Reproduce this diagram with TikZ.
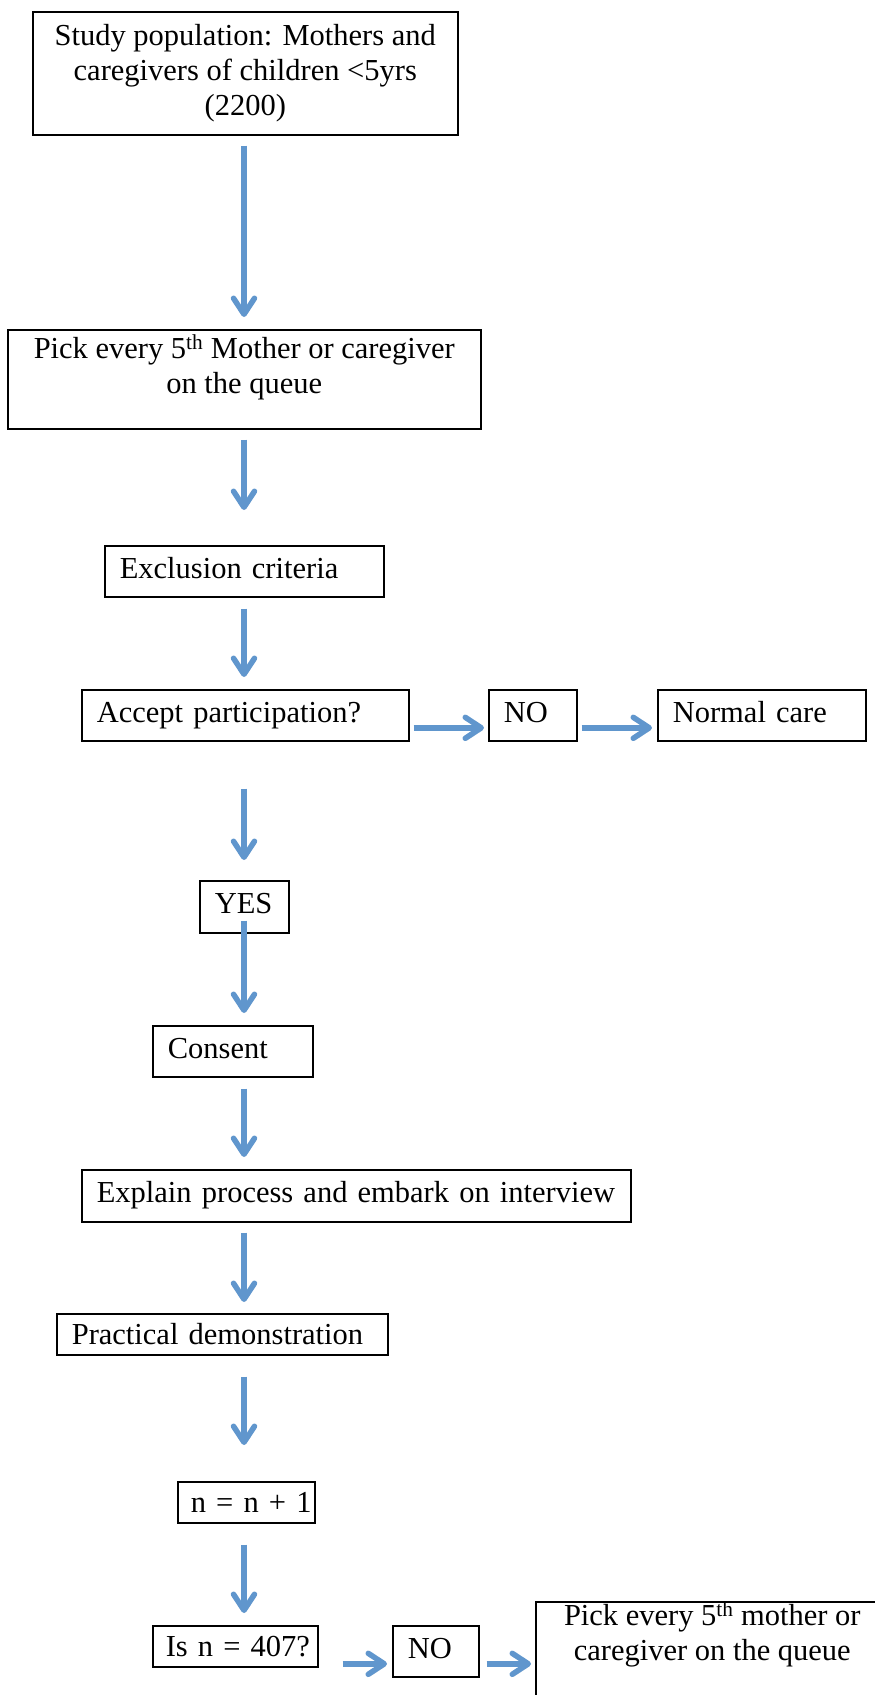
\documentclass[tikz,border=0pt]{standalone}
\usepackage{fontspec}
\setmainfont{Liberation Serif}
\usetikzlibrary{arrows.meta,calc}
\definecolor{bleuFleche}{RGB}{96,150,205}

\begin{document}
\begin{tikzpicture}[x=1pt,y=-1pt,font=\fontsize{30.5pt}{35pt}\selectfont]
    		\tikzstyle{cadre}=[draw, line width=1.6pt, inner xsep=15pt, inner ysep=0pt, align=left, anchor=north west, text height=21pt, text depth=7pt]
    		\tikzstyle{cadreCentre}=[draw, line width=1.6pt, inner sep=0pt, align=center, anchor=north west]
    		\tikzstyle{fleche}=[line width=5.5pt, draw=bleuFleche, -{Straight Barb[length=16pt,width=21pt,round]},
    		  preaction={draw=black!10, transform canvas={shift={(1pt,-2.5pt)}}}]
    	
    		\useasboundingbox (0,0) rectangle (875,1695);
    		\clip (0,0) rectangle (875,1695);
    		% main column
    		\node [cadreCentre, minimum width=425pt, minimum height=123pt] (population) at (32,11) {Study population: Mothers and\\ caregivers of children <5yrs\\ (2200)};
    		\node [cadreCentre, minimum width=473pt, minimum height=99pt] (tirage) at (7,329) {Pick every 5\textsuperscript{th} Mother or caregiver\\ on the queue\rule[-30pt]{0pt}{30pt}};
    		\node [cadre, minimum width=279pt, minimum height=51pt, text width=249pt] (exclusion) at (104,545) {Exclusion criteria};
    		\node [cadre, minimum width=327pt, minimum height=51pt, text width=297pt] (accord) at (81,689) {Accept participation?};
    		\node [cadre, minimum width=88pt, minimum height=51pt, text width=58pt] (non) at (488,689) {NO};
    		\node [cadre, minimum width=208pt, minimum height=51pt, text width=178pt] (soinsNormaux) at (657,689) {Normal care};
    		\node [cadre, minimum width=89pt, minimum height=52pt, text width=59pt] (oui) at (199,880) {YES};
    		\node [cadre, minimum width=160pt, minimum height=51pt, text width=130pt] (consentement) at (152,1025) {Consent};
    		\node [cadre, minimum width=549pt, minimum height=52pt, text width=519pt] (explication) at (81,1169) {Explain process and embark on interview};
    		\node [cadre, minimum width=331pt, minimum height=41pt, text width=301pt, text depth=0pt] (demonstration) at (56,1313) {Practical demonstration};
    		\node [cadre, minimum width=137pt, minimum height=41pt, inner xsep=13pt, text width=111pt, text depth=0pt] (increment) at (177,1481) {n~=~n~+~1};
    		\node [cadre, minimum width=165pt, minimum height=41pt, inner xsep=13pt, text width=139pt, text depth=0pt] (test) at (152,1625) {Is~n~=~407?};
    		\node [cadre, minimum width=86pt, minimum height=51pt, text width=56pt] (nonFin) at (392,1625) {NO};
    		\node [cadreCentre, minimum width=353pt, minimum height=99pt] (tirageSuivant) at (535,1601) {Pick every 5\textsuperscript{th} mother or\\ caregiver on the queue\rule[-53pt]{0pt}{53pt}};
    		
    		% arrows down the column
    		\coordinate (axe) at (244,0);
    		\draw [fleche] ($(axe |- population.south)+(0,10)$) -- ($(axe |- tirage.north)+(0,-12)$);
    		\draw [fleche] ($(axe |- tirage.south)+(0,10)$) -- ($(axe |- exclusion.north)+(0,-35)$);
    		\draw [fleche] ($(axe |- exclusion.south)+(0,11)$) -- ($(axe |- accord.north)+(0,-12)$);
    		\draw [fleche] ($(axe |- accord.south)+(0,47)$) -- ($(axe |- oui.north)+(0,-20)$);
    		\draw [fleche] ($(axe |- oui.south)+(0,-13)$) -- ($(axe |- consentement.north)+(0,-12)$);
    		\draw [fleche] ($(axe |- consentement.south)+(0,11)$) -- ($(axe |- explication.north)+(0,-12)$);
    		\draw [fleche] ($(axe |- explication.south)+(0,10)$) -- ($(axe |- demonstration.north)+(0,-11)$);
    		\draw [fleche] ($(axe |- demonstration.south)+(0,21)$) -- ($(axe |- increment.north)+(0,-36)$);
    		\draw [fleche] ($(axe |- increment.south)+(0,21)$) -- ($(axe |- test.north)+(0,-12)$);
    		% arrows to the side
    		\draw [fleche] ($(accord.east)+(4,12.5)$) -- ($(accord.east -| non.west)+(-4,12.5)$);
    		\draw [fleche] ($(non.east)+(4,12.5)$) -- ($(non.east -| soinsNormaux.west)+(-5,12.5)$);
    		\draw [fleche] ($(test.east)+(24,17.5)$) -- ($(test.east -| nonFin.west)+(-5,17.5)$);
    		\draw [fleche] ($(nonFin.east)+(7,12.5)$) -- ($(nonFin.east -| tirageSuivant.west)+(-4,12.5)$);
    		
		\end{tikzpicture}
\end{document}
